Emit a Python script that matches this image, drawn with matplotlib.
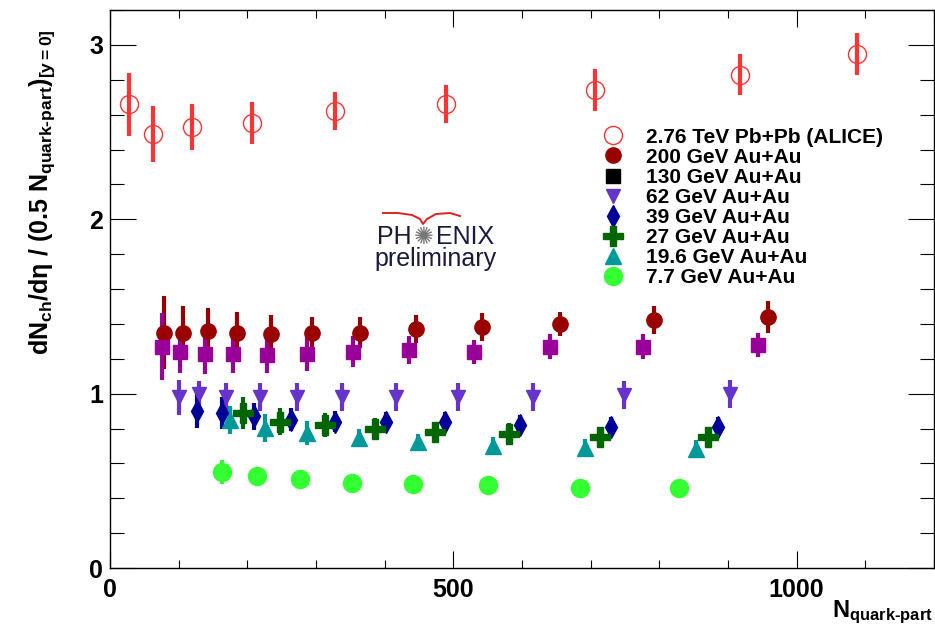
import matplotlib
matplotlib.use('Agg')
import matplotlib.pyplot as plt
from matplotlib.lines import Line2D
from matplotlib.ticker import MultipleLocator

plt.rcParams['font.family'] = ['Liberation Sans', 'DejaVu Sans']
plt.rcParams['mathtext.fontset'] = 'custom'
plt.rcParams['mathtext.rm'] = 'Liberation Sans:bold'
plt.rcParams['mathtext.it'] = 'Liberation Sans:bold'
plt.rcParams['mathtext.bf'] = 'Liberation Sans:bold'

# === Daten ===
alice_x = [27, 62, 119, 207, 327, 490, 707, 917, 1088]
alice_y = [2.66, 2.49, 2.53, 2.55, 2.62, 2.66, 2.74, 2.83, 2.95]
alice_err = [0.18, 0.16, 0.13, 0.12, 0.11, 0.11, 0.12, 0.12, 0.12]

au200_x = [78, 107, 142, 185, 235, 294, 364, 445, 542, 656, 792, 958]
au200_y = [1.35, 1.35, 1.36, 1.35, 1.34, 1.35, 1.35, 1.37, 1.38, 1.40, 1.42, 1.44]
au200_err = [0.21, 0.15, 0.13, 0.12, 0.11, 0.09, 0.09, 0.08, 0.08, 0.07, 0.08, 0.09]

au130_x = [75, 102, 138, 179, 228, 287, 354, 435, 530, 641, 776, 944]
au130_y = [1.27, 1.24, 1.23, 1.23, 1.22, 1.23, 1.24, 1.25, 1.24, 1.27, 1.27, 1.28]
au130_err = [0.19, 0.12, 0.12, 0.11, 0.10, 0.10, 0.09, 0.08, 0.07, 0.07, 0.07, 0.07]

au62_x = [100, 130, 169, 218, 272, 338, 416, 507, 616, 748, 903]
au62_y = [0.98, 1.0, 0.98, 0.98, 0.98, 0.98, 0.98, 0.98, 0.98, 0.99, 1.0]
au62_err = [0.10, 0.07, 0.08, 0.08, 0.08, 0.08, 0.08, 0.08, 0.08, 0.08, 0.08]

au39_x = [127, 163, 209, 264, 328, 402, 488, 597, 729, 885]
au39_y = [0.90, 0.89, 0.87, 0.85, 0.84, 0.84, 0.84, 0.82, 0.81, 0.81]
au39_err = [0.095, 0.09, 0.076, 0.067, 0.062, 0.057, 0.057, 0.057, 0.057, 0.057]

au27_x = [194, 248, 313, 386, 474, 581, 713, 871]
au27_y = [0.89, 0.84, 0.82, 0.80, 0.78, 0.77, 0.75, 0.75]
au27_err = [0.09, 0.08, 0.067, 0.06, 0.06, 0.06, 0.06, 0.06]

au196_x = [175, 226, 287, 362, 449, 558, 692, 853]
au196_y = [0.85, 0.805, 0.775, 0.745, 0.72, 0.70, 0.69, 0.685]
au196_err = [0.08, 0.08, 0.07, 0.05, 0.05, 0.05, 0.05, 0.05]

au77_x = [163, 214, 276, 352, 441, 550, 684, 829]
au77_y = [0.55, 0.53, 0.51, 0.49, 0.48, 0.475, 0.46, 0.46]
au77_err = [0.07, 0.05, 0.03, 0.03, 0.03, 0.03, 0.03, 0.03]

labels = ['2.76 TeV Pb+Pb (ALICE)', '200 GeV Au+Au', '130 GeV Au+Au', '62 GeV Au+Au',
          '39 GeV Au+Au', '27 GeV Au+Au', '19.6 GeV Au+Au', '7.7 GeV Au+Au']
# ======================================

fig = plt.figure(figsize=(9.35, 6.29), dpi=100)
ax = fig.add_axes([110 / 935, 61 / 629, 824 / 935, 558 / 629])

ew = 3.0
ax.errorbar(au200_x, au200_y, yerr=au200_err, fmt='o', color='#990000', ms=11, elinewidth=ew, capsize=0)
ax.errorbar(au130_x, au130_y, yerr=au130_err, fmt='s', color='#990099', ms=10, elinewidth=ew, capsize=0)
ax.errorbar(au62_x, au62_y, yerr=au62_err, fmt='v', color='#6633cc', ms=10, elinewidth=ew, capsize=0)
ax.errorbar(au39_x, au39_y, yerr=au39_err, fmt='d', color='#000099', ms=11, elinewidth=ew, capsize=0)
ax.errorbar(au196_x, au196_y, yerr=au196_err, fmt='^', color='#009999', ms=11, elinewidth=ew, capsize=0)
ax.errorbar(au27_x, au27_y, yerr=au27_err, fmt='P', color='#006600', ms=15, elinewidth=ew, capsize=0)
ax.errorbar(au77_x, au77_y, yerr=au77_err, fmt='o', color='#33ff33', ms=13, elinewidth=ew, capsize=0)
ax.errorbar(alice_x, alice_y, yerr=alice_err, fmt='o', color='#ff3333', mfc='none', ms=13, mew=1.0,
            elinewidth=ew, capsize=0)

ax.set_xlim(0, 1200)
ax.set_ylim(0, 3.2)
ax.xaxis.set_major_locator(MultipleLocator(500))
ax.xaxis.set_minor_locator(MultipleLocator(100))
ax.yaxis.set_major_locator(MultipleLocator(1))
ax.yaxis.set_minor_locator(MultipleLocator(0.2))
ax.tick_params(axis='both', which='both', direction='in', top=True, right=True, width=0.8)
ax.tick_params(axis='x', which='major', length=12, labelsize=18, pad=7)
ax.tick_params(axis='x', which='minor', length=6)
ax.tick_params(axis='y', which='major', length=19, labelsize=18, pad=5)
ax.tick_params(axis='y', which='minor', length=10)
for lab in ax.get_xticklabels() + ax.get_yticklabels():
    lab.set_fontweight('bold')
for sp in ax.spines.values():
    sp.set_linewidth(1.0)

ax.set_xlabel('N$_{quark\u2010part}$', fontsize=17, fontweight='bold', loc='right')
ax.xaxis.set_label_coords(0.999, -0.054)
ax.set_ylabel('dN$_{ch}$/d$\\eta$ / (0.5 N$_{quark\u2010part}$)$_{[y=0]}$',
              fontsize=18, fontweight='bold', loc='top')
ax.yaxis.set_label_coords(-0.064, 0.965)

handles = [
    Line2D([], [], ls='none', marker='o', ms=13, mfc='none', mec='#ff3333', mew=1.0),
    Line2D([], [], ls='none', marker='o', ms=11, color='#990000'),
    Line2D([], [], ls='none', marker='s', ms=10, color='black'),
    Line2D([], [], ls='none', marker='v', ms=10, color='#6633cc'),
    Line2D([], [], ls='none', marker='d', ms=11, color='#000099'),
    Line2D([], [], ls='none', marker='P', ms=15, color='#006600'),
    Line2D([], [], ls='none', marker='^', ms=11, color='#009999'),
    Line2D([], [], ls='none', marker='o', ms=13, color='#33ff33'),
]
ax.legend(handles, labels, loc='upper left', bbox_to_anchor=(0.595, 0.789), frameon=False,
          prop={'size': 15, 'weight': 'bold'}, handlelength=1.2, handletextpad=1.0,
          labelspacing=0.05, borderpad=0, borderaxespad=0)

# PHENIX-Logo
fig.text(412 / 935, 1 - 237 / 629, 'PH', fontsize=18, color='#1a1a40', ha='right', va='center')
fig.text(424 / 935, 1 - 237 / 629, '\u273A', fontsize=17, color='#777777', ha='center', va='center',
         family=['DejaVu Sans'])
fig.text(436 / 935, 1 - 237 / 629, 'ENIX', fontsize=18, color='#1a1a40', ha='left', va='center')
fig.text(436 / 935, 1 - 259 / 629, 'preliminary', fontsize=18, color='#1a1a40', ha='center', va='center')
arc_x = [383, 398, 412, 420, 423, 427, 436, 450, 460]
arc_y = [213, 213, 215, 219, 224, 219, 214, 213, 216]
fig.add_artist(Line2D([v / 935 for v in arc_x], [1 - v / 629 for v in arc_y],
                      transform=fig.transFigure, color='#e02020', lw=1.4))

fig.savefig('out.png', dpi=100)
